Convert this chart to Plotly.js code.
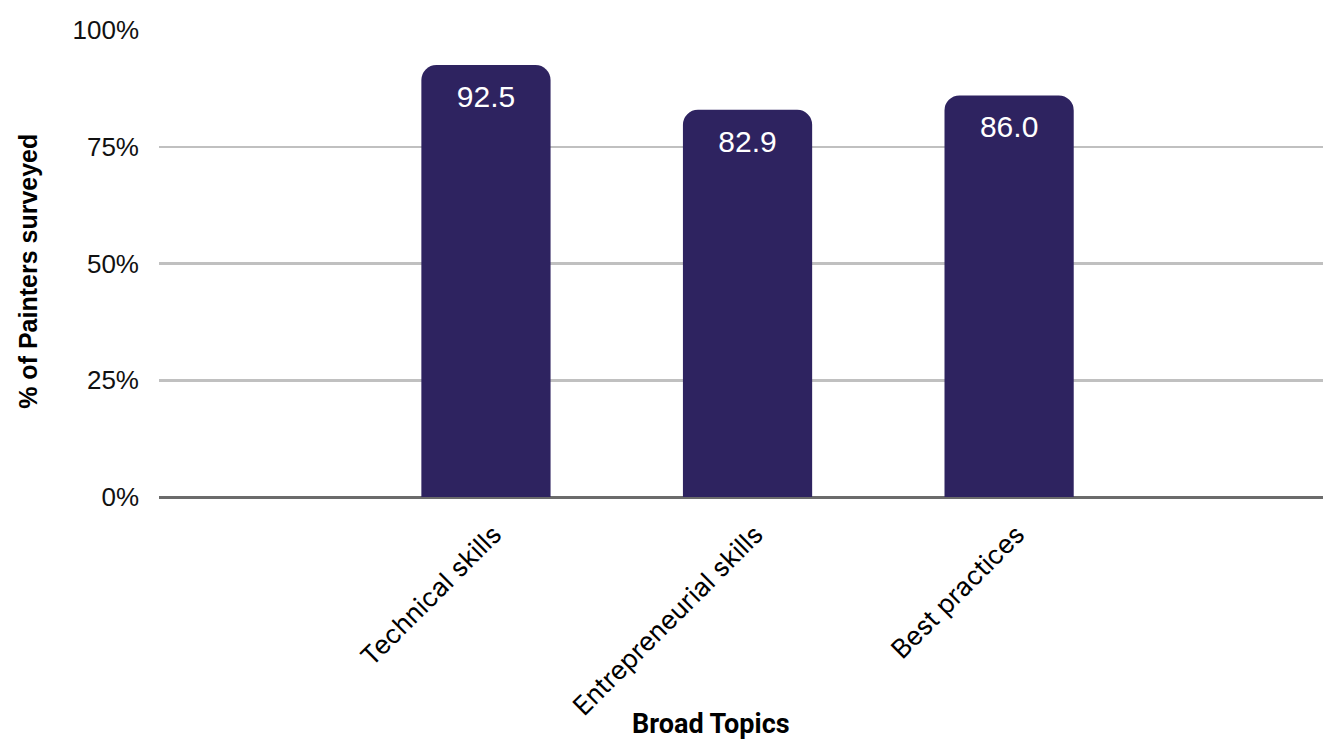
<!DOCTYPE html>
<html>
<head>
<meta charset="utf-8">
<script src="https://cdn.plot.ly/plotly-3.0.1.min.js"></script>
<style>
  html, body { margin: 0; padding: 0; background: #ffffff; }
  #chart { width: 1323px; height: 739px; }
</style>
</head>
<body>
<div id="chart"></div>
<script>
// Share of painters surveyed, by broad training topic
const topics = ['Technical skills', 'Entrepreneurial skills', 'Best practices'];
const sharePct = [92.5, 82.9, 86.0];
const yTickVals = [0, 25, 50, 75, 100];
const yTickText = ['0%', '25%', '50%', '75%', '100%'];

const barColor = 'rgb(46,35,96)';

const trace = {
  type: 'bar',
  x: topics,
  y: sharePct,
  width: 0.494,
  marker: { color: barColor, cornerradius: 15, line: { width: 0 } },
  texttemplate: '%{y:.1f}',
  textposition: 'inside',
  insidetextanchor: 'end',
  textangle: 0,
  textfont: { family: 'Liberation Sans, Arial, sans-serif', size: 30, color: '#ffffff' },
  hoverinfo: 'skip'
};

const layout = {
  width: 1323,
  height: 739,
  margin: { l: 159, r: 0, t: 30, b: 242, pad: 0 },
  paper_bgcolor: '#ffffff',
  plot_bgcolor: '#ffffff',
  showlegend: false,
  xaxis: {
    type: 'category',
    range: [-1.25, 3.2],
    showgrid: false,
    zeroline: false,
    showline: false,
    ticks: '',
    tickangle: -45,
    ticklabelstandoff: 16,
    ticklabelshift: 8,
    tickfont: { family: 'Inter, Noto Sans, sans-serif', size: 26, color: '#000000' },
    fixedrange: true
  },
  yaxis: {
    range: [0, 100],
    tickvals: yTickVals,
    ticktext: yTickText,
    ticks: '',
    ticklabelstandoff: 19,
    showgrid: true,
    gridcolor: '#c0c0c0',
    gridwidth: 2.5,
    zeroline: true,
    zerolinecolor: '#6b6b6b',
    zerolinewidth: 3,
    showline: false,
    tickfont: { family: 'Liberation Sans, Arial, sans-serif', size: 26, color: '#111111' },
    fixedrange: true
  },
  annotations: [
    {
      text: '<b>% of Painters surveyed</b>',
      xref: 'paper', yref: 'paper',
      x: -0.1125, y: 0.4823,
      xanchor: 'center', yanchor: 'middle',
      textangle: -90,
      showarrow: false,
      font: { family: 'Liberation Sans, Arial, sans-serif', size: 25, color: '#000000' }
    },
    {
      text: '<b>Broad Topics</b>',
      xref: 'paper', yref: 'paper',
      x: 0.4742, y: -0.4868,
      xanchor: 'center', yanchor: 'middle',
      showarrow: false,
      font: { family: 'Roboto, sans-serif', size: 27, color: '#000000' }
    }
  ]
};

Plotly.newPlot('chart', [trace], layout, { displayModeBar: false, staticPlot: true });
</script>
</body>
</html>
